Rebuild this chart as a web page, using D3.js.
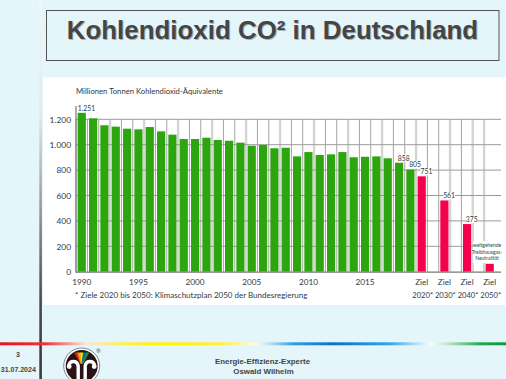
<!DOCTYPE html>
<html><head><meta charset="utf-8">
<script src="https://cdn.jsdelivr.net/npm/d3@7"></script>
<style>html,body{margin:0;padding:0;background:#e5f6fa;overflow:hidden}svg{display:block}</style>
</head><body><svg id="c" width="506" height="379"></svg>
<script>
const slots = ["1990","1991","1992","1993","1994","1995","1996","1997","1998","1999","2000","2001","2002","2003","2004","2005","2006","2007","2008","2009","2010","2011","2012","2013","2014","2015","2016","2017","2018","2019","2020","a","2030","b","2040","c","2050"];
const histYears = slots.slice(0,30);
const histValues = [1251,1208,1153,1142,1126,1121,1139,1105,1079,1045,1045,1055,1037,1031,1016,992,998,972,976,908,942,919,924,942,901,905,908,893,858,805];
const goalYears = ["2020","2030","2040","2050"];
const goalValues = [751,561,375,62];
const yTicks = [0,200,400,600,800,1000,1200];
const yearLabels = ["1990","1995","2000","2005","2010","2015"];
const valueLabels = {"1990":"1.251","2018":"858","2019":"805","2020":"751","2030":"561","2040":"375"};
const fmt = d => d>=1000 ? String(d).replace(/(\d)(\d{3})$/,"$1.$2") : String(d);
const svg = d3.select("#c");
const sans = "Lato,'Open Sans',sans-serif", arial = "'Liberation Sans',Arial,sans-serif";

// slide
const defs = svg.append("defs");
const g = defs.append("linearGradient").attr("id","rb");
[[0,"#e8141c"],[.09,"#f03038"],[.17,"#fbe6d8"],[.25,"#fff040"],[.33,"#fff200"],[.44,"#fff040"],[.505,"#fbfbee"],[.53,"#c0e4f4"],[.58,"#30a0e0"],[.66,"#0a70c8"],[.77,"#30a8e8"],[.85,"#f6fcfd"],[.88,"#c8ecd0"],[.95,"#20a850"],[1,"#0a9a40"]]
 .forEach(s=>g.append("stop").attr("offset",s[0]).attr("stop-color",s[1]));
const lv = defs.append("linearGradient").attr("id","lv").attr("x1",0).attr("x2",0).attr("y1",0).attr("y2",1);
[[0,"#f0f8fa"],[.3,"#e4e8e8"],[.5,"#a8a8a8"],[.8,"#4a4a4a"],[1,"#3a3a3a"]].forEach(s=>lv.append("stop").attr("offset",s[0]).attr("stop-color",s[1]));
svg.append("rect").attr("x",39.3).attr("y",0).attr("width",2.6).attr("height",379).attr("fill","url(#lv)");
svg.append("rect").attr("x",43).attr("y",77.5).attr("width",463).attr("height",227.5).attr("fill","#fff");
svg.append("rect").attr("x",46.5).attr("y",10.5).attr("width",452.5).attr("height",50).attr("fill","none").attr("stroke","#555").attr("stroke-width",1);
[[1,"#a9b4b6"],[0,"#454545"]].forEach(([o,c])=>svg.append("text").attr("x",272.5+o).attr("y",38.5+o).attr("text-anchor","middle").attr("font-family",arial).attr("font-weight","bold").attr("font-size",25.9).attr("fill",c).text("Kohlendioxid CO² in Deutschland"));
svg.append("rect").attr("x",0).attr("y",342.3).attr("width",506).attr("height",3).attr("fill","url(#rb)");

// chart
const x = d3.scaleBand().domain(slots).range([76,495.5]).paddingInner(0.28).paddingOuter(0.15);
const y = d3.scaleLinear().domain([0,1200]).range([271.7,119.3]);
const cx = d => x(d)+x.bandwidth()/2;
const grid = svg.append("g");
const st = x.step();
slots.forEach((d,i)=>{
  const px = cx(d)-st/2, thick = i%3===0 || i===35;
  grid.append("line").attr("x1",px).attr("x2",px).attr("y1",119).attr("y2",271.7)
    .attr("stroke",thick? "#d4d4d4":"#a4a4a4").attr("stroke-width",thick?2.4:1);
});
const yAxis = d3.axisLeft(y).tickValues(yTicks).tickFormat(fmt).tickSize(0).tickPadding(5);
grid.selectAll("line.h").data(yTicks.slice(1)).join("line").attr("class","h").attr("x1",76).attr("x2",501)
  .attr("y1",d=>y(d)).attr("y2",d=>y(d)).attr("stroke","#9a9a9a").attr("stroke-width",1);

svg.append("g").selectAll("rect").data(d3.zip(histYears,histValues)).join("rect")
  .attr("x",d=>x(d[0])).attr("width",x.bandwidth()).attr("y",d=>y(d[1])).attr("height",d=>y(0)-y(d[1])).attr("fill","#2ca50e");

svg.append("rect").attr("x",473).attr("y",241).attr("width",28).attr("height",22).attr("fill","#fff");
svg.append("g").selectAll("rect").data(d3.zip(goalYears,goalValues)).join("rect")
  .attr("x",d=>x(d[0])).attr("width",x.bandwidth()).attr("y",d=>y(d[1])).attr("height",d=>y(0)-y(d[1])).attr("fill","#f5004f");

const ax = svg.append("g").attr("transform","translate(76,0)").call(yAxis);
ax.select(".domain").remove();
ax.selectAll("text").attr("font-family",sans).attr("font-size",8.4).attr("fill","#2f3a44");
svg.append("line").attr("x1",76).attr("x2",76).attr("y1",106).attr("y2",272.8).attr("stroke","#777").attr("stroke-width",1.2);
svg.append("line").attr("x1",76).attr("x2",501).attr("y1",272.2).attr("y2",272.2).attr("stroke","#777").attr("stroke-width",1.2);

const t=(s,px,py,fs,anchor="middle",fill="#2f3a44",fam=sans,w="normal")=>svg.append("text").attr("x",px).attr("y",py).attr("font-family",fam).attr("font-size",fs).attr("text-anchor",anchor).attr("fill",fill).attr("font-weight",w).text(s);
t("Millionen Tonnen Kohlendioxid-Äquivalente",76,94,7.7,"start");
yearLabels.forEach(d=>t(d,cx(d),285,8.2));
Object.entries(valueLabels).forEach(([k,v])=>{
  const val = k<="2019"?histValues[histYears.indexOf(k)]:goalValues[goalYears.indexOf(k)];
  svg.append("rect").attr("x",cx(k)-1).attr("y",y(val)-8.5).attr("width",11.5).attr("height",7.5).attr("fill","#fff");
  t(v,cx(k)+4.7,y(val)-2,6.8);
});
goalYears.forEach(d=>{t("Ziel",cx(d),285,8.2);t(d+"*",cx(d)+1,297.8,7.6);});
t("* Ziele 2020 bis 2050: Klimaschutzplan 2050 der Bundesregierung",75,298,8,"start");
["weitgehende","Treibhausgas-","Neutralität"].forEach((s,i)=>t(s,487,247+i*6.5,5,"middle","#1f4a3a"));

// footer
t("3",18,357,7,"middle","#444",arial,"bold");
t("31.07.2024",18.3,372,7,"middle","#444",arial,"bold");
t("Energie-Effizienz-Experte",262.5,363.5,7.9,"middle","#444",arial,"bold");
t("Oswald Wilhelm",263.5,373.5,7.9,"middle","#444",arial,"bold");

// logo
const lg = svg.append("g").attr("transform","translate(81.7,366)");
lg.append("circle").attr("r",18).attr("fill","#fff").attr("stroke","#7a8a9a");
lg.append("circle").attr("r",16).attr("fill","#2a1216");
[["#d8201c",-6],["#f0a000",-3],["#f5e000",0],["#1a60b0",3],["#1a9040",6]].forEach(([c,o])=>
  lg.append("path").attr("d",`M${o*0.12-0.6},-2 L${o-1.6},-13.5 L${o+1.6},-13.5 L${o*0.12+0.6},-2 Z`).attr("fill",c));
[1,-1].forEach(s=>{
  lg.append("path").attr("d",`M${s*-13},0 C${s*-12},-6 ${s*-4.5},-6 ${s*-3.5},0 L${s*-3.5},17`).attr("fill","none").attr("stroke","#fff").attr("stroke-width",3.4);
  lg.append("circle").attr("cx",s*-12.5).attr("cy",0.5).attr("r",2.4).attr("fill","#fff");
});
t("®",98.5,353,6,"middle","#555");
</script></body></html>
